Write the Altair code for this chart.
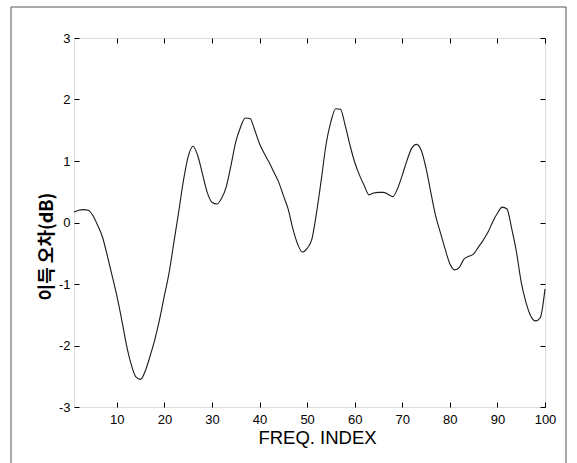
import altair as alt
import pandas as pd

freq_index = list(range(1, 101))
gain_error_db = [
    0.17, 0.20, 0.21, 0.20, 0.11, -0.05, -0.24, -0.54, -0.86, -1.19,
    -1.57, -1.98, -2.30, -2.51, -2.55, -2.41, -2.17, -1.90, -1.57, -1.19,
    -0.81, -0.32, 0.17, 0.68, 1.07, 1.24, 1.09, 0.79, 0.49, 0.33,
    0.30, 0.39, 0.58, 0.93, 1.31, 1.55, 1.70, 1.69, 1.50, 1.28,
    1.12, 0.98, 0.82, 0.66, 0.44, 0.22, -0.10, -0.35, -0.48, -0.42,
    -0.27, 0.17, 0.71, 1.28, 1.64, 1.85, 1.84, 1.58, 1.26, 0.98,
    0.77, 0.60, 0.45, 0.48, 0.49, 0.49, 0.46, 0.42, 0.55, 0.77,
    1.01, 1.21, 1.27, 1.17, 0.88, 0.49, 0.11, -0.16, -0.43, -0.67,
    -0.77, -0.73, -0.59, -0.55, -0.51, -0.40, -0.29, -0.16, 0.01, 0.15,
    0.25, 0.22, -0.10, -0.48, -0.97, -1.30, -1.52, -1.60, -1.55, -1.08,
]
x_ticks = [10, 20, 30, 40, 50, 60, 70, 80, 90, 100]
y_ticks = [-3, -2, -1, 0, 1, 2, 3]

df = pd.DataFrame({"idx": freq_index, "val": gain_error_db})

LABEL_FONT = "Liberation Sans"
xs = alt.Scale(domain=[1, 100], nice=False, zero=False)
ys = alt.Scale(domain=[-3, 3], nice=False, zero=False)

base = alt.Chart(df)

line = base.mark_line(color="#1a1a1a", strokeWidth=1.1, interpolate="monotone").encode(
    x=alt.X("idx:Q", scale=xs, axis=alt.Axis(
        orient="bottom", values=x_ticks, title="FREQ. INDEX", grid=False,
        domain=False, offset=-5, tickSize=5, tickColor="#000",
        labelFont=LABEL_FONT, labelFontSize=13, labelColor="#000", labelPadding=6,
        labelExpr="'' + datum.value", labelFlush=False,
        titleFont=LABEL_FONT, titleFontSize=18.5, titleFontWeight="normal",
        titleColor="#000", titlePadding=2, titleX=243)),
    y=alt.Y("val:Q", scale=ys, axis=alt.Axis(
        orient="left", values=y_ticks, title="이득 오차(dB)", grid=False,
        domain=False, offset=-5, tickSize=5, tickColor="#000",
        labelFont=LABEL_FONT, labelFontSize=13, labelColor="#000", labelPadding=4,
        labelExpr="'' + datum.value", labelFlush=False,
        titleFont="Noto Sans CJK KR", titleFontSize=18, titleFontWeight="bold",
        titleColor="#000", titlePadding=2, titleY=208)),
)

mirror = base.mark_line(opacity=0).encode(
    x=alt.X("idx:Q", scale=xs, axis=alt.Axis(
        orient="top", values=x_ticks, title=None, grid=False, labels=False,
        domain=False, offset=-5, tickSize=5, tickColor="#000")),
    y=alt.Y("val:Q", scale=ys, axis=alt.Axis(
        orient="right", values=y_ticks, title=None, grid=False, labels=False,
        domain=False, offset=-5, tickSize=5, tickColor="#000")),
)

frame = alt.Chart(pd.DataFrame({"k": [0]})).mark_rect(
    filled=False, stroke="#555", strokeWidth=1
).encode(
    x=alt.value(-63), x2=alt.value(492), y=alt.value(-31), y2=alt.value(440)
)

chart = alt.layer(line, mirror, frame).resolve_axis(
    x="independent", y="independent"
).properties(
    width=471, height=369,
    autosize=alt.AutoSizeParams(type="none"),
    padding={"left": 74, "top": 38, "right": 32, "bottom": 56},
).configure_view(stroke="#000", strokeWidth=1.2).configure(background="white")

chart.save("out.html", embed_options={"renderer": "svg", "actions": False})
